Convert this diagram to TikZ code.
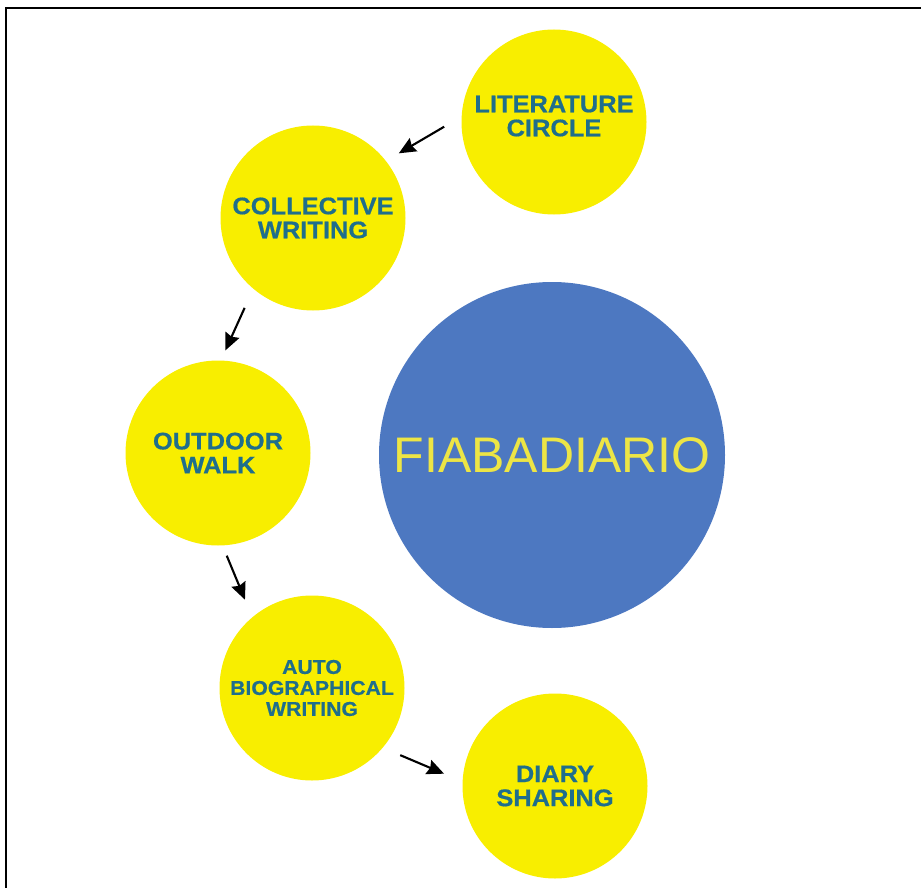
\documentclass[tikz,border=0pt]{standalone}
\usepackage{fontspec}
\setmainfont{Liberation Sans}
\newfontfamily\stepfont{Liberation Sans}[FakeStretch=1.06,FakeBold=0.6]
\usetikzlibrary{arrows.meta}

\definecolor{stepyellow}{HTML}{F8EE00}
\definecolor{coreblue}{HTML}{4D78C1}
\definecolor{labelteal}{HTML}{1F6E8C}
\definecolor{titleyellow}{HTML}{EDE545}

\begin{document}
\begin{tikzpicture}[x=1pt,y=-1pt,>={Stealth[length=17pt,width=15pt,inset=2pt]},line width=2.1pt]
            \useasboundingbox (0,0) rectangle (921,888);
            \draw[line width=2.2pt] (6,888) -- (6,8) -- (921,8);
            \begin{scope}[every node/.style={circle,fill=stepyellow,minimum size=185pt,inner sep=0pt,align=center,text=labelteal,font=\stepfont\bfseries\fontsize{24}{24}\selectfont}]
                \node[text depth=12pt] (lit) at (554,122) {LITERATURE\\CIRCLE};
                \node (col) at (313,218) {COLLECTIVE\\WRITING};
                \node (walk) at (218,453) {OUTDOOR\\WALK};
                \node[font=\stepfont\bfseries\fontsize{20}{21}\selectfont] (auto) at (312,688) {AUTO\\BIOGRAPHICAL\\WRITING};
                \node (diary) at (555,786) {DIARY\\SHARING};
            \end{scope}
            \node[circle,fill=coreblue,minimum size=346pt,inner sep=0pt,text=titleyellow,font=\fontsize{50}{50}\selectfont] (fia) at (552,455) {FIABADIARIO};
            \draw (lit.177) edge [->, shorten <=19pt, shorten >=14pt] (col.38);
            \draw (col.-130) edge [->, shorten <=20pt, shorten >=10pt] (walk.88);
            \draw (walk.-87) edge [->, shorten <=10pt, shorten >=18pt] (auto.130);
            \draw (auto.-40) edge [->, shorten <=18pt, shorten >=19pt] (diary.177);
        \end{tikzpicture}
\end{document}
